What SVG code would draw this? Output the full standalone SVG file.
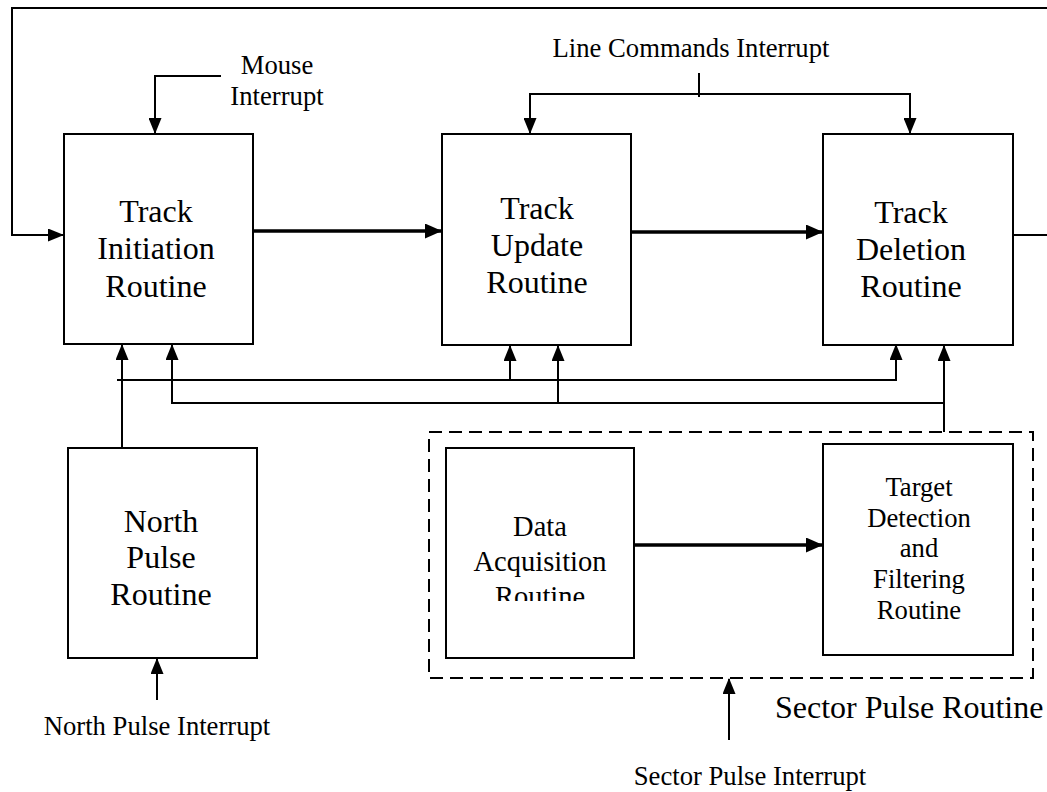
<svg xmlns="http://www.w3.org/2000/svg" width="1047" height="792" viewBox="0 0 1047 792">
<defs>
<style>
.box{fill:#fff;stroke:#000;stroke-width:2}
.t{font-family:"Liberation Serif","Times New Roman",serif;fill:#000;text-anchor:middle}
.big{font-size:32px}
.sm{font-size:26.67px}
.ln{fill:none;stroke:#000;stroke-width:2}
.thk{fill:none;stroke:#000;stroke-width:3.5}
.dash{fill:none;stroke:#000;stroke-width:2;stroke-dasharray:13 7}
</style>
<marker id="ah" markerWidth="16" markerHeight="13" refX="15" refY="6.5" orient="auto" markerUnits="userSpaceOnUse"><path d="M0,0 L16,6.5 L0,13 z" fill="#000"/></marker>
<marker id="ahb" markerWidth="17" markerHeight="15" refX="16" refY="7.5" orient="auto" markerUnits="userSpaceOnUse"><path d="M0,0 L17,7.5 L0,15 z" fill="#000"/></marker>
<clipPath id="clipDA"><rect x="440" y="440" width="200" height="161"/></clipPath>
</defs>
<rect width="1047" height="792" fill="#fff"/>

<g id="connectors">
  <!-- top feedback loop -->
  <path class="ln" d="M1047,8 H12 V235 H63" marker-end="url(#ah)"/>
  <line class="ln" x1="1013" y1="235" x2="1047" y2="235"/>
  <!-- mouse interrupt -->
  <path class="ln" d="M221,76 H155 V133" marker-end="url(#ah)"/>
  <!-- line commands interrupt -->
  <line class="ln" x1="699" y1="73" x2="699" y2="97"/>
  <path class="ln" d="M699,94 H530 V133" marker-end="url(#ah)"/>
  <path class="ln" d="M699,94 H910 V133" marker-end="url(#ah)"/>
  <!-- main flow -->
  <line class="thk" x1="253" y1="231" x2="441" y2="231" marker-end="url(#ahb)"/>
  <line class="thk" x1="631" y1="232" x2="822" y2="232" marker-end="url(#ahb)"/>
  <line class="thk" x1="634" y1="545" x2="822" y2="545" marker-end="url(#ahb)"/>
  <!-- north pulse to initiation -->
  <line class="ln" x1="122" y1="448" x2="122" y2="345" marker-end="url(#ah)"/>
  <!-- bus 1 -->
  <path class="ln" d="M117,380 H896 V345" marker-end="url(#ah)"/>
  <line class="ln" x1="510" y1="380" x2="510" y2="346" marker-end="url(#ah)"/>
  <!-- bus 2 -->
  <path class="ln" d="M944,432 V403 H172 V345" marker-end="url(#ah)"/>
  <line class="ln" x1="558" y1="403" x2="558" y2="346" marker-end="url(#ah)"/>
  <line class="ln" x1="944" y1="403" x2="944" y2="346" marker-end="url(#ah)"/>
  <!-- interrupts from below -->
  <line class="ln" x1="157" y1="700" x2="157" y2="659" marker-end="url(#ah)"/>
  <line class="ln" x1="729" y1="740" x2="729" y2="679" marker-end="url(#ah)"/>
</g>

<g id="sector-pulse-routine">
  <rect class="dash" x="429" y="432" width="604" height="246"/>
  <text class="t big" x="775" y="718" style="text-anchor:start">Sector Pulse Routine</text>
</g>

<g id="track-initiation">
  <rect class="box" x="64" y="134" width="189" height="210"/>
  <text class="t big" x="156" y="222">Track</text>
  <text class="t big" x="156" y="259">Initiation</text>
  <text class="t big" x="156" y="297">Routine</text>
</g>

<g id="track-update">
  <rect class="box" x="442" y="134" width="189" height="211"/>
  <text class="t big" x="537" y="219">Track</text>
  <text class="t big" x="537" y="256">Update</text>
  <text class="t big" x="537" y="293">Routine</text>
</g>

<g id="track-deletion">
  <rect class="box" x="823" y="134" width="190" height="211"/>
  <text class="t big" x="911" y="223">Track</text>
  <text class="t big" x="911" y="260">Deletion</text>
  <text class="t big" x="911" y="297">Routine</text>
</g>

<g id="north-pulse">
  <rect class="box" x="68" y="448" width="189" height="210"/>
  <text class="t big" x="161" y="532">North</text>
  <text class="t big" x="161" y="568">Pulse</text>
  <text class="t big" x="161" y="605">Routine</text>
</g>

<g id="data-acquisition">
  <rect class="box" x="446" y="448" width="188" height="210"/>
  <g clip-path="url(#clipDA)">
    <text class="t" style="font-size:28.5px" x="540" y="536">Data</text>
    <text class="t" style="font-size:28.5px" x="540" y="571">Acquisition</text>
    <text class="t" style="font-size:28.5px" x="540" y="606">Routine</text>
  </g>
</g>

<g id="target-detection">
  <rect class="box" x="823" y="444" width="190" height="211"/>
  <text class="t sm" x="919" y="496">Target</text>
  <text class="t sm" x="919" y="527">Detection</text>
  <text class="t sm" x="919" y="557">and</text>
  <text class="t sm" x="919" y="588">Filtering</text>
  <text class="t sm" x="919" y="619">Routine</text>
</g>

<g id="labels">
  <text class="t sm" x="277" y="74">Mouse</text>
  <text class="t sm" x="277" y="105">Interrupt</text>
  <text class="t sm" x="691" y="57">Line Commands Interrupt</text>
  <text class="t sm" x="157" y="735">North Pulse Interrupt</text>
  <text class="t sm" x="750" y="785">Sector Pulse Interrupt</text>
</g>
</svg>
